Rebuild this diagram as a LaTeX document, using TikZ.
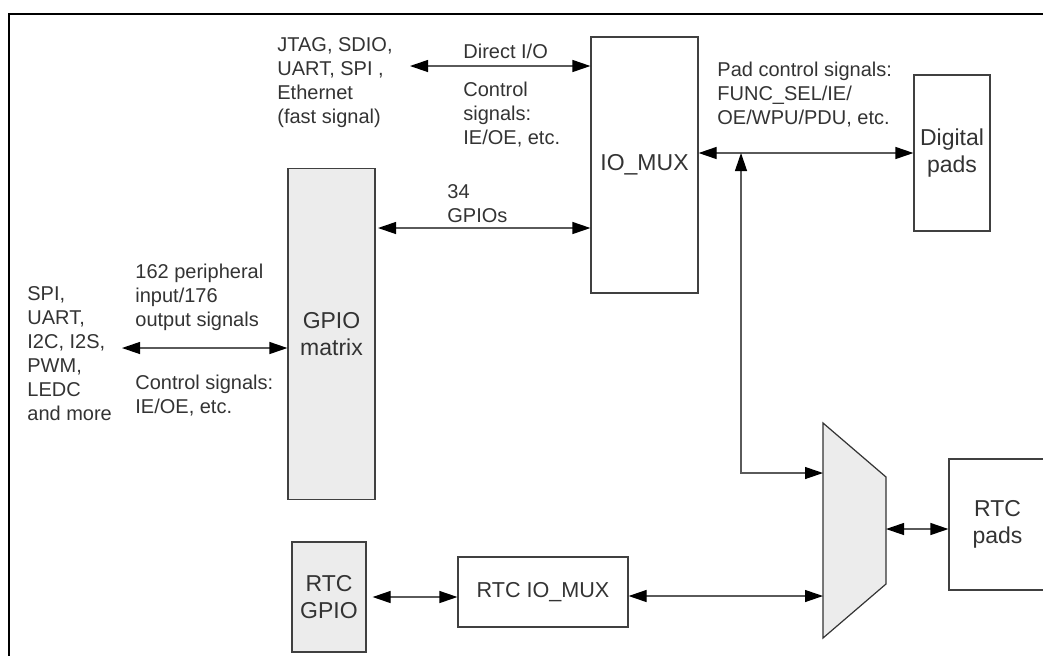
\documentclass[tikz,border=0pt]{standalone}
\usepackage{fontspec}
\setmainfont{Liberation Sans}
\usetikzlibrary{arrows.meta, calc}
\definecolor{boxgray}{HTML}{ECECEC}
\definecolor{linegray}{HTML}{5A5A5A}
\definecolor{textgray}{HTML}{333333}
\tikzset{
  block/.style={rectangle, draw=black!75, line width=0.6pt, inner sep=0pt,
    align=center, text=textgray, font=\fontsize{11.5}{13.5}\selectfont},
  grayblock/.style={block, fill=boxgray},
  sigtext/.style={align=left, inner sep=0pt, text=textgray,
    font=\fontsize{10}{12}\selectfont},
  link/.style={{Triangle[length=9pt,width=6pt,color=black]}-{Triangle[length=9pt,width=6pt,color=black]},
    draw=linegray, line width=0.6pt}
}

\begin{document}
\begin{tikzpicture}[x=0.5pt, y=-0.5pt]
\useasboundingbox (0,0) rectangle (1043,655);

% Outer frame
\draw[line width=1pt] (9,680) -- (9,14) -- (1070,14);

% Blocks
\node[grayblock, minimum width=43.5pt, minimum height=165.5pt] (gpiomatrix) at (331.5,334) {GPIO\\matrix};
\node[block, minimum width=53.5pt, minimum height=128pt] (iomux) at (644.5,165) {IO\_MUX};
\node[block, minimum width=38pt, minimum height=78pt] (digitalpads) at (952,153) {Digital\\pads};
\node[block, minimum width=48.5pt, minimum height=65.5pt] (rtcpads) at (997.5,524.5) {RTC\\pads};
\node[block, minimum width=85pt, minimum height=35pt, font=\fontsize{10.8}{13}\selectfont] (rtciomux) at (543,592) {RTC IO\_MUX};
\node[grayblock, minimum width=37pt, minimum height=55pt] (rtcgpio) at (329,597) {RTC\\GPIO};

% Multiplexer
\filldraw[fill=boxgray, draw=black!80, line width=0.6pt]
  (823,423) -- (886,477) -- (886,584) -- (823,638) -- cycle;
\coordinate (mux-in1) at (823,473);
\coordinate (mux-in2) at (823,596);
\coordinate (mux-out) at (886,529);

% Signal texts
\node[sigtext, anchor=west] (fastsig) at (277,83) {JTAG, SDIO,\\UART, SPI ,\\Ethernet\\(fast signal)};
\node[sigtext, anchor=base west] (directio) at (463,58) {Direct I/O};
\node[sigtext, anchor=west] (ctrltop) at (463,115) {Control\\signals:\\IE/OE, etc.};
\node[sigtext, anchor=west] (gpio34) at (447,204) {34\\GPIOs};
\node[sigtext, anchor=west] (padctrl) at (717,95) {Pad control signals:\\FUNC\_SEL/IE/\\OE/WPU/PDU, etc.};
\node[sigtext, anchor=west] (periph) at (27,354) {SPI,\\UART,\\I2C, I2S,\\PWM,\\LEDC\\and more};
\node[sigtext, anchor=west] (periphsig) at (135,297) {162 peripheral\\input/176\\output signals};
\node[sigtext, anchor=west] (ctrlleft) at (135,396) {Control signals:\\IE/OE, etc.};

% ── Connectors ──────────────────────────────────────────────
\coordinate (dio-l) at (410,66);
\draw[link] (dio-l) -- (dio-l -| iomux.west);
\coordinate (g34-l) at (378,228);
\draw[link] (g34-l) -- (g34-l -| iomux.west);
\coordinate (per-l) at (122,348);
\draw[link] (per-l) -- (per-l -| gpiomatrix.west);
\draw[link] (iomux.east |- digitalpads.west) -- (digitalpads.west);
\coordinate (tap) at (741,153);
\draw[link] (tap) |- (mux-in1);
\draw[link] (mux-out) -- (mux-out -| rtcpads.west);
\draw[link] (rtciomux.east |- mux-in2) -- (mux-in2);
\draw[link, shorten <=3pt] (rtcgpio.east) -- (rtcgpio.east -| rtciomux.west);

\end{tikzpicture}
\end{document}
